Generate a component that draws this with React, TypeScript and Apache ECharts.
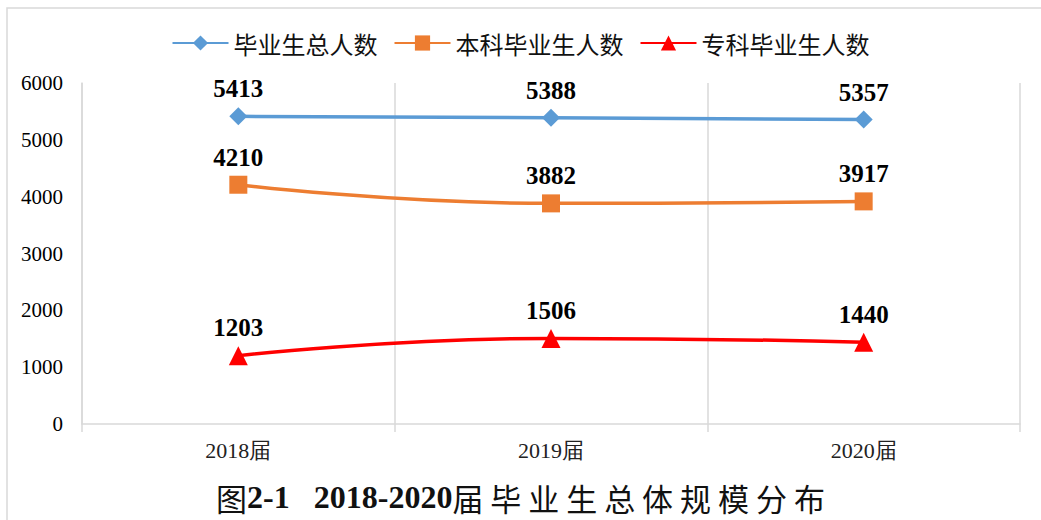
import React, { useEffect, useRef } from "react";
import * as echarts from "echarts";

const categories = ["2018届", "2019届", "2020届"];
const totalGrads = [5413, 5388, 5357];
const bachelorGrads = [4210, 3882, 3917];
const juniorGrads = [1203, 1506, 1440];
const seriesNames = ["毕业生总人数", "本科毕业生人数", "专科毕业生人数"];
const yTicks = { min: 0, max: 6000, interval: 1000 };

export default function App() {
  const ref = useRef<HTMLDivElement>(null);
  useEffect(() => {
    if (!ref.current) return;
    const chart = echarts.init(ref.current, null, { renderer: "svg" });
    const labelStyle = {
      show: true,
      position: "top" as const,
      distance: 6,
      fontFamily: "Liberation Serif, serif",
      fontWeight: "bold" as const,
      fontSize: 25,
      color: "#000",
    };
    const mk = (name: string, data: number[], color: string, symbol: string, size: number) => ({
      name,
      type: "line",
      data,
      smooth: 0.5,
      symbol,
      symbolSize: size,
      lineStyle: { color, width: 3.5 },
      itemStyle: { color },
      label: labelStyle,
    });
    chart.setOption({
      animation: false,
      backgroundColor: "#fff",
      graphic: [
        {
          type: "rect",
          shape: { x: 7, y: 8, width: 1100, height: 600 },
          style: { fill: "none", stroke: "#D9D9D9", lineWidth: 1.5 },
          silent: true,
        },
        {
          type: "text",
          left: "center",
          top: 481,
          style: {
            text: "{a|图}{b|2-1   2018-2020}{a|届 毕 业 生 总 体 规 模 分 布}",
            rich: {
              a: { fontFamily: "Noto Sans CJK SC", fontSize: 31, fill: "#111" },
              b: { fontFamily: "Liberation Serif", fontWeight: "bold", fontSize: 32, fill: "#111" },
            },
          },
        },
      ],
      legend: {
        top: 26,
        left: "center",
        itemWidth: 56,
        itemHeight: 19,
        itemGap: 16,
        textStyle: { fontFamily: "Noto Sans CJK SC", fontSize: 24, color: "#111" },
        data: seriesNames,
      },
      grid: { left: 82, right: 21, top: 83, bottom: 96 },
      xAxis: {
        type: "category",
        data: categories,
        boundaryGap: true,
        axisLine: { lineStyle: { color: "#D9D9D9", width: 1.5 } },
        axisTick: { show: true, length: 8, lineStyle: { color: "#D9D9D9", width: 1.5 } },
        splitLine: { show: true, lineStyle: { color: "#D9D9D9", width: 1.5 } },
        axisLabel: {
          fontFamily: "Liberation Serif, serif",
          fontSize: 22,
          color: "#222",
          margin: 15,
        },
      },
      yAxis: {
        type: "value",
        min: yTicks.min,
        max: yTicks.max,
        interval: yTicks.interval,
        axisLine: { show: true, lineStyle: { color: "#D9D9D9", width: 1.5 } },
        axisTick: { show: false },
        splitLine: { show: false },
        axisLabel: {
          fontFamily: "Liberation Serif, serif",
          fontSize: 21,
          color: "#000",
          margin: 19,
          formatter: (v: number) => String(v),
        },
      },
      series: [
        mk(seriesNames[0], totalGrads, "#5B9BD5", "diamond", 18),
        mk(seriesNames[1], bachelorGrads, "#ED7D31", "rect", 18),
        mk(seriesNames[2], juniorGrads, "#FF0000", "triangle", 19),
      ],
    });
    return () => chart.dispose();
  }, []);
  return (
    <div
      ref={ref}
      style={{ position: "fixed", left: 0, top: 0, width: 1041, height: 520 }}
    />
  );
}
